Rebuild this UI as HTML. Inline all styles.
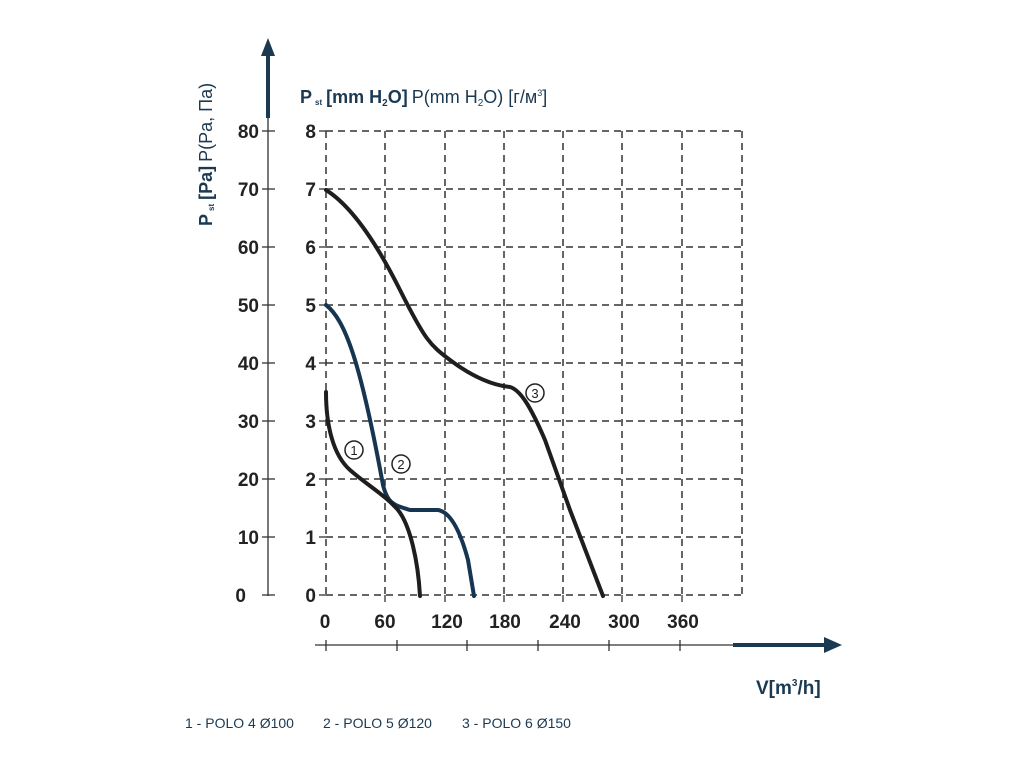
<!DOCTYPE html>
<html><head><meta charset="utf-8"><style>
html,body{margin:0;padding:0;background:#fff;}
svg{display:block;}
text{font-family:"Liberation Sans",sans-serif;}
</style></head><body>
<svg width="1024" height="768" viewBox="0 0 1024 768" xmlns="http://www.w3.org/2000/svg">
<g stroke="#333" stroke-width="1.5" stroke-dasharray="7,5" fill="none">
<line x1="326" y1="131" x2="742" y2="131"/>
<line x1="326" y1="189" x2="742" y2="189"/>
<line x1="326" y1="247" x2="742" y2="247"/>
<line x1="326" y1="305" x2="742" y2="305"/>
<line x1="326" y1="363" x2="742" y2="363"/>
<line x1="326" y1="421" x2="742" y2="421"/>
<line x1="326" y1="479" x2="742" y2="479"/>
<line x1="326" y1="537" x2="742" y2="537"/>
<line x1="326" y1="595" x2="742" y2="595"/>
<line x1="326" y1="131" x2="326" y2="595"/>
<line x1="385" y1="131" x2="385" y2="595"/>
<line x1="445" y1="131" x2="445" y2="595"/>
<line x1="504" y1="131" x2="504" y2="595"/>
<line x1="563" y1="131" x2="563" y2="595"/>
<line x1="622" y1="131" x2="622" y2="595"/>
<line x1="682" y1="131" x2="682" y2="595"/>
<line x1="742" y1="131" x2="742" y2="595"/>
</g>
<g stroke="#333" stroke-width="1.3">
<line x1="319" y1="131" x2="326" y2="131"/><line x1="319" y1="189" x2="326" y2="189"/>
<line x1="319" y1="247" x2="326" y2="247"/><line x1="319" y1="305" x2="326" y2="305"/>
<line x1="319" y1="363" x2="326" y2="363"/><line x1="319" y1="421" x2="326" y2="421"/>
<line x1="319" y1="479" x2="326" y2="479"/><line x1="319" y1="537" x2="326" y2="537"/>
<line x1="319" y1="595" x2="326" y2="595"/>
<line x1="385" y1="595" x2="385" y2="602"/><line x1="445" y1="595" x2="445" y2="602"/>
<line x1="504" y1="595" x2="504" y2="602"/><line x1="563" y1="595" x2="563" y2="602"/>
<line x1="622" y1="595" x2="622" y2="602"/><line x1="682" y1="595" x2="682" y2="602"/>
<line x1="268" y1="110" x2="268" y2="596"/>
<line x1="262" y1="131" x2="275" y2="131"/><line x1="262" y1="189" x2="275" y2="189"/>
<line x1="262" y1="247" x2="275" y2="247"/><line x1="262" y1="305" x2="275" y2="305"/>
<line x1="262" y1="363" x2="275" y2="363"/><line x1="262" y1="421" x2="275" y2="421"/>
<line x1="262" y1="479" x2="275" y2="479"/><line x1="262" y1="537" x2="275" y2="537"/>
<line x1="262" y1="595" x2="275" y2="595"/>
<line x1="315" y1="645" x2="740" y2="645"/>
<line x1="326" y1="640" x2="326" y2="651"/><line x1="397" y1="640" x2="397" y2="651"/>
<line x1="467" y1="640" x2="467" y2="651"/><line x1="538" y1="640" x2="538" y2="651"/>
<line x1="609" y1="640" x2="609" y2="651"/><line x1="680" y1="640" x2="680" y2="651"/>
</g>
<line x1="268" y1="55" x2="268" y2="118" stroke="#1b3a52" stroke-width="4"/>
<polygon points="268,38 261,56 275,56" fill="#1b3a52"/>
<line x1="733" y1="645" x2="826" y2="645" stroke="#1b3a52" stroke-width="4"/>
<polygon points="842,645 824,637 824,653" fill="#1b3a52"/>
<g font-size="19" font-weight="bold" fill="#222" text-anchor="end">
<text x="259" y="138">80</text><text x="259" y="196">70</text><text x="259" y="254">60</text>
<text x="259" y="312">50</text><text x="259" y="370">40</text><text x="259" y="428">30</text>
<text x="259" y="486">20</text><text x="259" y="544">10</text><text x="246" y="602">0</text>
<text x="316" y="138">8</text><text x="316" y="196">7</text><text x="316" y="254">6</text>
<text x="316" y="312">5</text><text x="316" y="370">4</text><text x="316" y="428">3</text>
<text x="316" y="486">2</text><text x="316" y="544">1</text><text x="316" y="602">0</text>
</g>
<g font-size="19" font-weight="bold" fill="#222" text-anchor="middle">
<text x="325" y="628">0</text><text x="385" y="628">60</text><text x="447" y="628">120</text>
<text x="505" y="628">180</text><text x="565" y="628">240</text><text x="624" y="628">300</text>
<text x="683" y="628">360</text>
</g>
<text x="300" y="103" font-size="18" fill="#1b3a52"><tspan font-weight="bold">P</tspan><tspan font-size="8" font-weight="bold" dx="3" dy="2">st</tspan><tspan font-weight="bold" dx="4" dy="-2">[mm H</tspan><tspan font-size="10" font-weight="bold" dy="3">2</tspan><tspan font-weight="bold" dy="-3">O]</tspan><tspan dx="4">P(mm H</tspan><tspan font-size="10" dy="3">2</tspan><tspan dy="-3">O) [г/м</tspan><tspan font-size="9" dy="-7">3</tspan><tspan dy="7">]</tspan></text>
<text transform="translate(212,226) rotate(-90)" font-size="18" fill="#1b3a52"><tspan font-weight="bold">P</tspan><tspan font-size="8" font-weight="bold" dx="3" dy="2">st</tspan><tspan font-weight="bold" dx="4" dy="-2">[Pa]</tspan><tspan dx="4">P(Pa, Па)</tspan></text>
<text x="756" y="694" font-size="19" font-weight="bold" fill="#1b3a52">V[m<tspan font-size="10" dy="-8">3</tspan><tspan dy="8">/h]</tspan></text>
<g font-size="14" fill="#1b3a52">
<text x="185" y="728">1 - POLO 4 Ø100</text>
<text x="323" y="728">2 - POLO 5 Ø120</text>
<text x="462" y="728">3 - POLO 6 Ø150</text>
</g>
<g fill="none" stroke-linecap="round" stroke-linejoin="round" stroke-width="4">
<path stroke="#1e1e1e" d="M326,190 C350,205 375,240 400,290 S430,345 450,360 S490,385 510,387 C520,390 530,405 545,440 L570,510 L603,596"/>
<path stroke="#163550" d="M326,305 C345,320 360,360 383,485 C388,505 395,505 410,510 L438,510 C450,512 460,530 468,560 L474,596"/>
<path stroke="#1e1e1e" d="M326,392 C326,425 333,455 350,470 S385,495 398,510 C410,525 418,560 420,596"/>
</g>
<g fill="none" stroke="#222" stroke-width="1.5">
<circle cx="354" cy="450" r="9"/><circle cx="401" cy="464" r="9"/><circle cx="535" cy="393" r="9"/>
</g>
<g font-size="13" fill="#222" text-anchor="middle">
<text x="354" y="455">1</text><text x="401" y="469">2</text><text x="535" y="398">3</text>
</g>
</svg>
</body></html>
